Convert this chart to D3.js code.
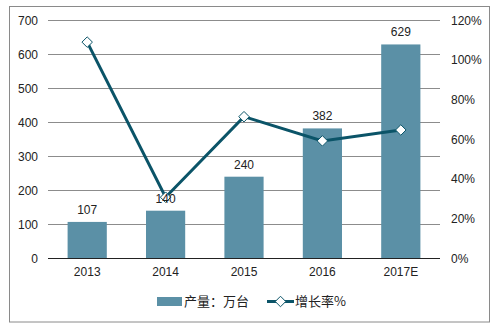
<!DOCTYPE html>
<html>
<head>
<meta charset="utf-8">
<script src="https://cdn.jsdelivr.net/npm/d3@7"></script>
<style>
  html, body { margin: 0; padding: 0; background: #fff; }
  svg { display: block; font-family: "Liberation Sans", Arial, "Noto Sans CJK SC", sans-serif; }
</style>
</head>
<body>
<svg id="chart" width="495" height="326"></svg>
<script>
// Output (10k units) and year-on-year growth rate
const years = ["2013", "2014", "2015", "2016", "2017E"];
const output = [107, 140, 240, 382, 629];
const growth = [109, 30.8, 71.4, 59.2, 64.7];
const leftTicks = [0, 100, 200, 300, 400, 500, 600, 700];
const rightTicks = [0, 20, 40, 60, 80, 100, 120];
const seriesNames = ["产量：万台", "增长率%"];

const barColor = "#5b90a6";
const lineColor = "#0b5468";
const gridColor = "#8c8c8c";

const svg = d3.select("#chart");
const plot = { left: 48, right: 440, top: 20.3, bottom: 258.3 };

// Outer frame
svg.append("rect")
  .attr("x", 9.5).attr("y", 6.5).attr("width", 480).attr("height", 315.5)
  .attr("fill", "none").attr("stroke", "#8a8a8a").attr("stroke-width", 1);

const x = d3.scaleBand().domain(years).range([plot.left, plot.right]).paddingInner(0.5).paddingOuter(0.25);
const yL = d3.scaleLinear().domain([0, 700]).range([plot.bottom, plot.top]);
const yR = d3.scaleLinear().domain([0, 120]).range([plot.bottom, plot.top]);

// Gridlines
svg.append("g").selectAll("line")
  .data(leftTicks.filter(d => d > 0))
  .join("line")
  .attr("x1", plot.left).attr("x2", plot.right)
  .attr("y1", d => Math.round(yL(d)) + 0.5).attr("y2", d => Math.round(yL(d)) + 0.5)
  .attr("stroke", gridColor).attr("stroke-width", 1);

// Left axis
const axL = svg.append("g")
  .attr("transform", `translate(${plot.left},0)`)
  .call(d3.axisLeft(yL).tickValues(leftTicks).tickSize(0).tickPadding(10));
axL.select(".domain").remove();
axL.selectAll("text").attr("font-size", 12).attr("fill", "#222").attr("font-family", "Liberation Sans, Arial, sans-serif");

// Right axis (left-aligned labels)
const axR = svg.append("g")
  .attr("transform", `translate(${plot.right},0)`)
  .call(d3.axisRight(yR).tickValues(rightTicks).tickSize(0).tickPadding(11).tickFormat(d => d + "%"));
axR.select(".domain").remove();
axR.selectAll("text").attr("font-size", 12).attr("fill", "#222").attr("font-family", "Liberation Sans, Arial, sans-serif");

// Bars
svg.append("g").selectAll("rect")
  .data(output)
  .join("rect")
  .attr("x", (d, i) => x(years[i]))
  .attr("width", x.bandwidth())
  .attr("y", d => yL(d))
  .attr("height", d => yL(0) - yL(d))
  .attr("fill", barColor);

// Baseline
svg.append("line")
  .attr("x1", plot.left).attr("x2", plot.right)
  .attr("y1", Math.round(yL(0)) + 0.5).attr("y2", Math.round(yL(0)) + 0.5)
  .attr("stroke", "#222").attr("stroke-width", 1);

// Category labels
const axB = svg.append("g")
  .attr("transform", `translate(0,${plot.bottom})`)
  .call(d3.axisBottom(x).tickSize(0).tickPadding(9));
axB.select(".domain").remove();
axB.selectAll("text").attr("font-size", 12).attr("fill", "#222").attr("font-family", "Liberation Sans, Arial, sans-serif");

// Growth line
const cx = (d, i) => x(years[i]) + x.bandwidth() / 2;
svg.append("path")
  .datum(growth)
  .attr("d", d3.line().x(cx).y(d => yR(d)))
  .attr("fill", "none").attr("stroke", lineColor).attr("stroke-width", 3)
  .attr("stroke-linejoin", "miter");

const diamond = d3.symbol().type(d3.symbolDiamond2).size(70);
svg.append("g").selectAll("path")
  .data(growth)
  .join("path")
  .attr("transform", (d, i) => `translate(${cx(d, i)},${yR(d)})`)
  .attr("d", diamond)
  .attr("fill", "#fff").attr("stroke", lineColor).attr("stroke-width", 1);

// Bar value labels
svg.append("g").selectAll("text")
  .data(output)
  .join("text")
  .attr("x", (d, i) => cx(d, i))
  .attr("y", d => yL(d) - 8)
  .attr("text-anchor", "middle")
  .attr("font-size", 12).attr("fill", "#222")
  .text(d => d);

// Legend
const lg = svg.append("g");
lg.append("rect").attr("x", 157).attr("y", 297).attr("width", 25).attr("height", 9).attr("fill", barColor);
lg.append("text").attr("x", 184).attr("y", 306).attr("font-size", 13).attr("fill", "#222")
  .attr("font-family", "Noto Sans CJK SC, sans-serif").text(seriesNames[0]);
lg.append("line").attr("x1", 267).attr("x2", 294).attr("y1", 301.5).attr("y2", 301.5)
  .attr("stroke", lineColor).attr("stroke-width", 3);
lg.append("path").attr("transform", "translate(280.5,301.5)").attr("d", diamond)
  .attr("fill", "#fff").attr("stroke", lineColor).attr("stroke-width", 1);
lg.append("text").attr("x", 295).attr("y", 306).attr("font-size", 13).attr("fill", "#222")
  .attr("font-family", "Noto Sans CJK SC, sans-serif").text(seriesNames[1]);
</script>
</body>
</html>
